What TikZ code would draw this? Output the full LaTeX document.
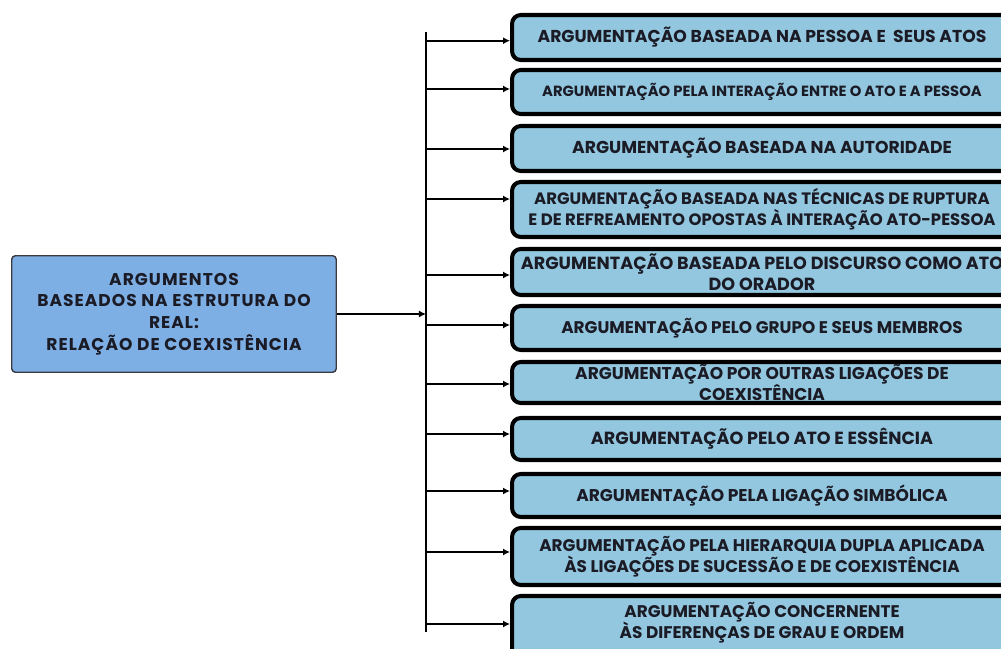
\documentclass[tikz,border=0pt]{standalone}
\usepackage{fontspec}
\setmainfont{Poppins}
\usetikzlibrary{calc}
\usetikzlibrary{arrows.meta}
\usetikzlibrary{positioning}
\definecolor{RootBlue}{HTML}{7DAEE4}
\definecolor{RootEdge}{HTML}{3A3A40}
\definecolor{BoxBlue}{HTML}{93C7DF}
\definecolor{InkDark}{HTML}{1B1B26}
\tikzset{
  rootbox/.style={draw=RootEdge, line width=0.8pt, fill=RootBlue, rounded corners=2pt,
    minimum width=6.49cm, minimum height=2.33cm, align=center, text=InkDark,
    font=\bfseries\fontsize{9.7}{12.4}\selectfont\addfontfeature{LetterSpace=6}},
  argbox/.style={draw=black, line width=2.3pt, fill=BoxBlue, rounded corners=5pt,
    minimum width=10cm, align=center, text=InkDark, inner sep=0pt},
  branch/.style={line width=1.1pt, -{Latex[length=4pt,width=4pt]}},
  spine/.style={line width=1.1pt}
}

\begin{document}
\begin{tikzpicture}[x=0.02cm, y=-0.02cm]

  \useasboundingbox (0,0) rectangle (1001,649);
  \clip (0,0) rectangle (1001,649); % boxes run off the right edge

  \coordinate (SpineTop) at (426,32);
  \coordinate (SpineBot) at (426,632);
  \draw [spine] (SpineTop) -- (SpineBot);% Draw the spine

  \node[rootbox] (Root) at (174,314)
    {ARGUMENTOS\\BASEADOS NA ESTRUTURA DO\\REAL:\\RELAÇÃO DE COEXISTÊNCIA};
  \draw [branch] (Root.east) -- (Root.east -| SpineTop);

  % index / centre / height / arrow / size / text
  \foreach \n/\c/\h/\a/\s/\t in {
    1/37.5/45/40.7/9.8/{ARGUMENTAÇÃO BASEADA NA PESSOA E \ SEUS ATOS},
    2/92/44/89/8.4/{ARGUMENTAÇÃO PELA INTERAÇÃO ENTRE O ATO E A PESSOA},
    3/148.5/45/149/9.8/{ARGUMENTAÇÃO BASEADA NA AUTORIDADE},
    4/209.5/55/199/9.4/{ARGUMENTAÇÃO BASEADA NAS TÉCNICAS DE RUPTURA\\E DE REFREAMENTO OPOSTAS À INTERAÇÃO ATO-PESSOA},
    5/272/46/275/10/{ARGUMENTAÇÃO BASEADA PELO DISCURSO COMO ATO\\DO ORADOR},
    6/328/44/325/9.6/{ARGUMENTAÇÃO PELO GRUPO E SEUS MEMBROS},
    7/382.5/41/384/9.7/{ARGUMENTAÇÃO POR OUTRAS LIGAÇÕES DE\\COEXISTÊNCIA},
    8/439/42/434/10/{ARGUMENTAÇÃO PELO ATO E ESSÊNCIA},
    9/495.5/43/491/9.7/{ARGUMENTAÇÃO PELA LIGAÇÃO SIMBÓLICA},
    10/556.5/57/552/9.6/{ARGUMENTAÇÃO PELA HIERARQUIA DUPLA APLICADA\\ÀS LIGAÇÕES DE SUCESSÃO E DE COEXISTÊNCIA},
    11/627/62/624/9.6/{ARGUMENTAÇÃO CONCERNENTE\\ÀS DIFERENÇAS DE GRAU E ORDEM\rule[-0.28cm]{0pt}{0pt}}}
  {
    \node[argbox, minimum height=\h*0.02cm,
      font=\bfseries\fontsize{\s}{12}\selectfont] (B\n) at (762,\c) {\t};
    \coordinate (S\n) at (426,\a);
    \draw [branch] (S\n) -- (S\n -| B\n.west);
  }

\end{tikzpicture}
\end{document}
